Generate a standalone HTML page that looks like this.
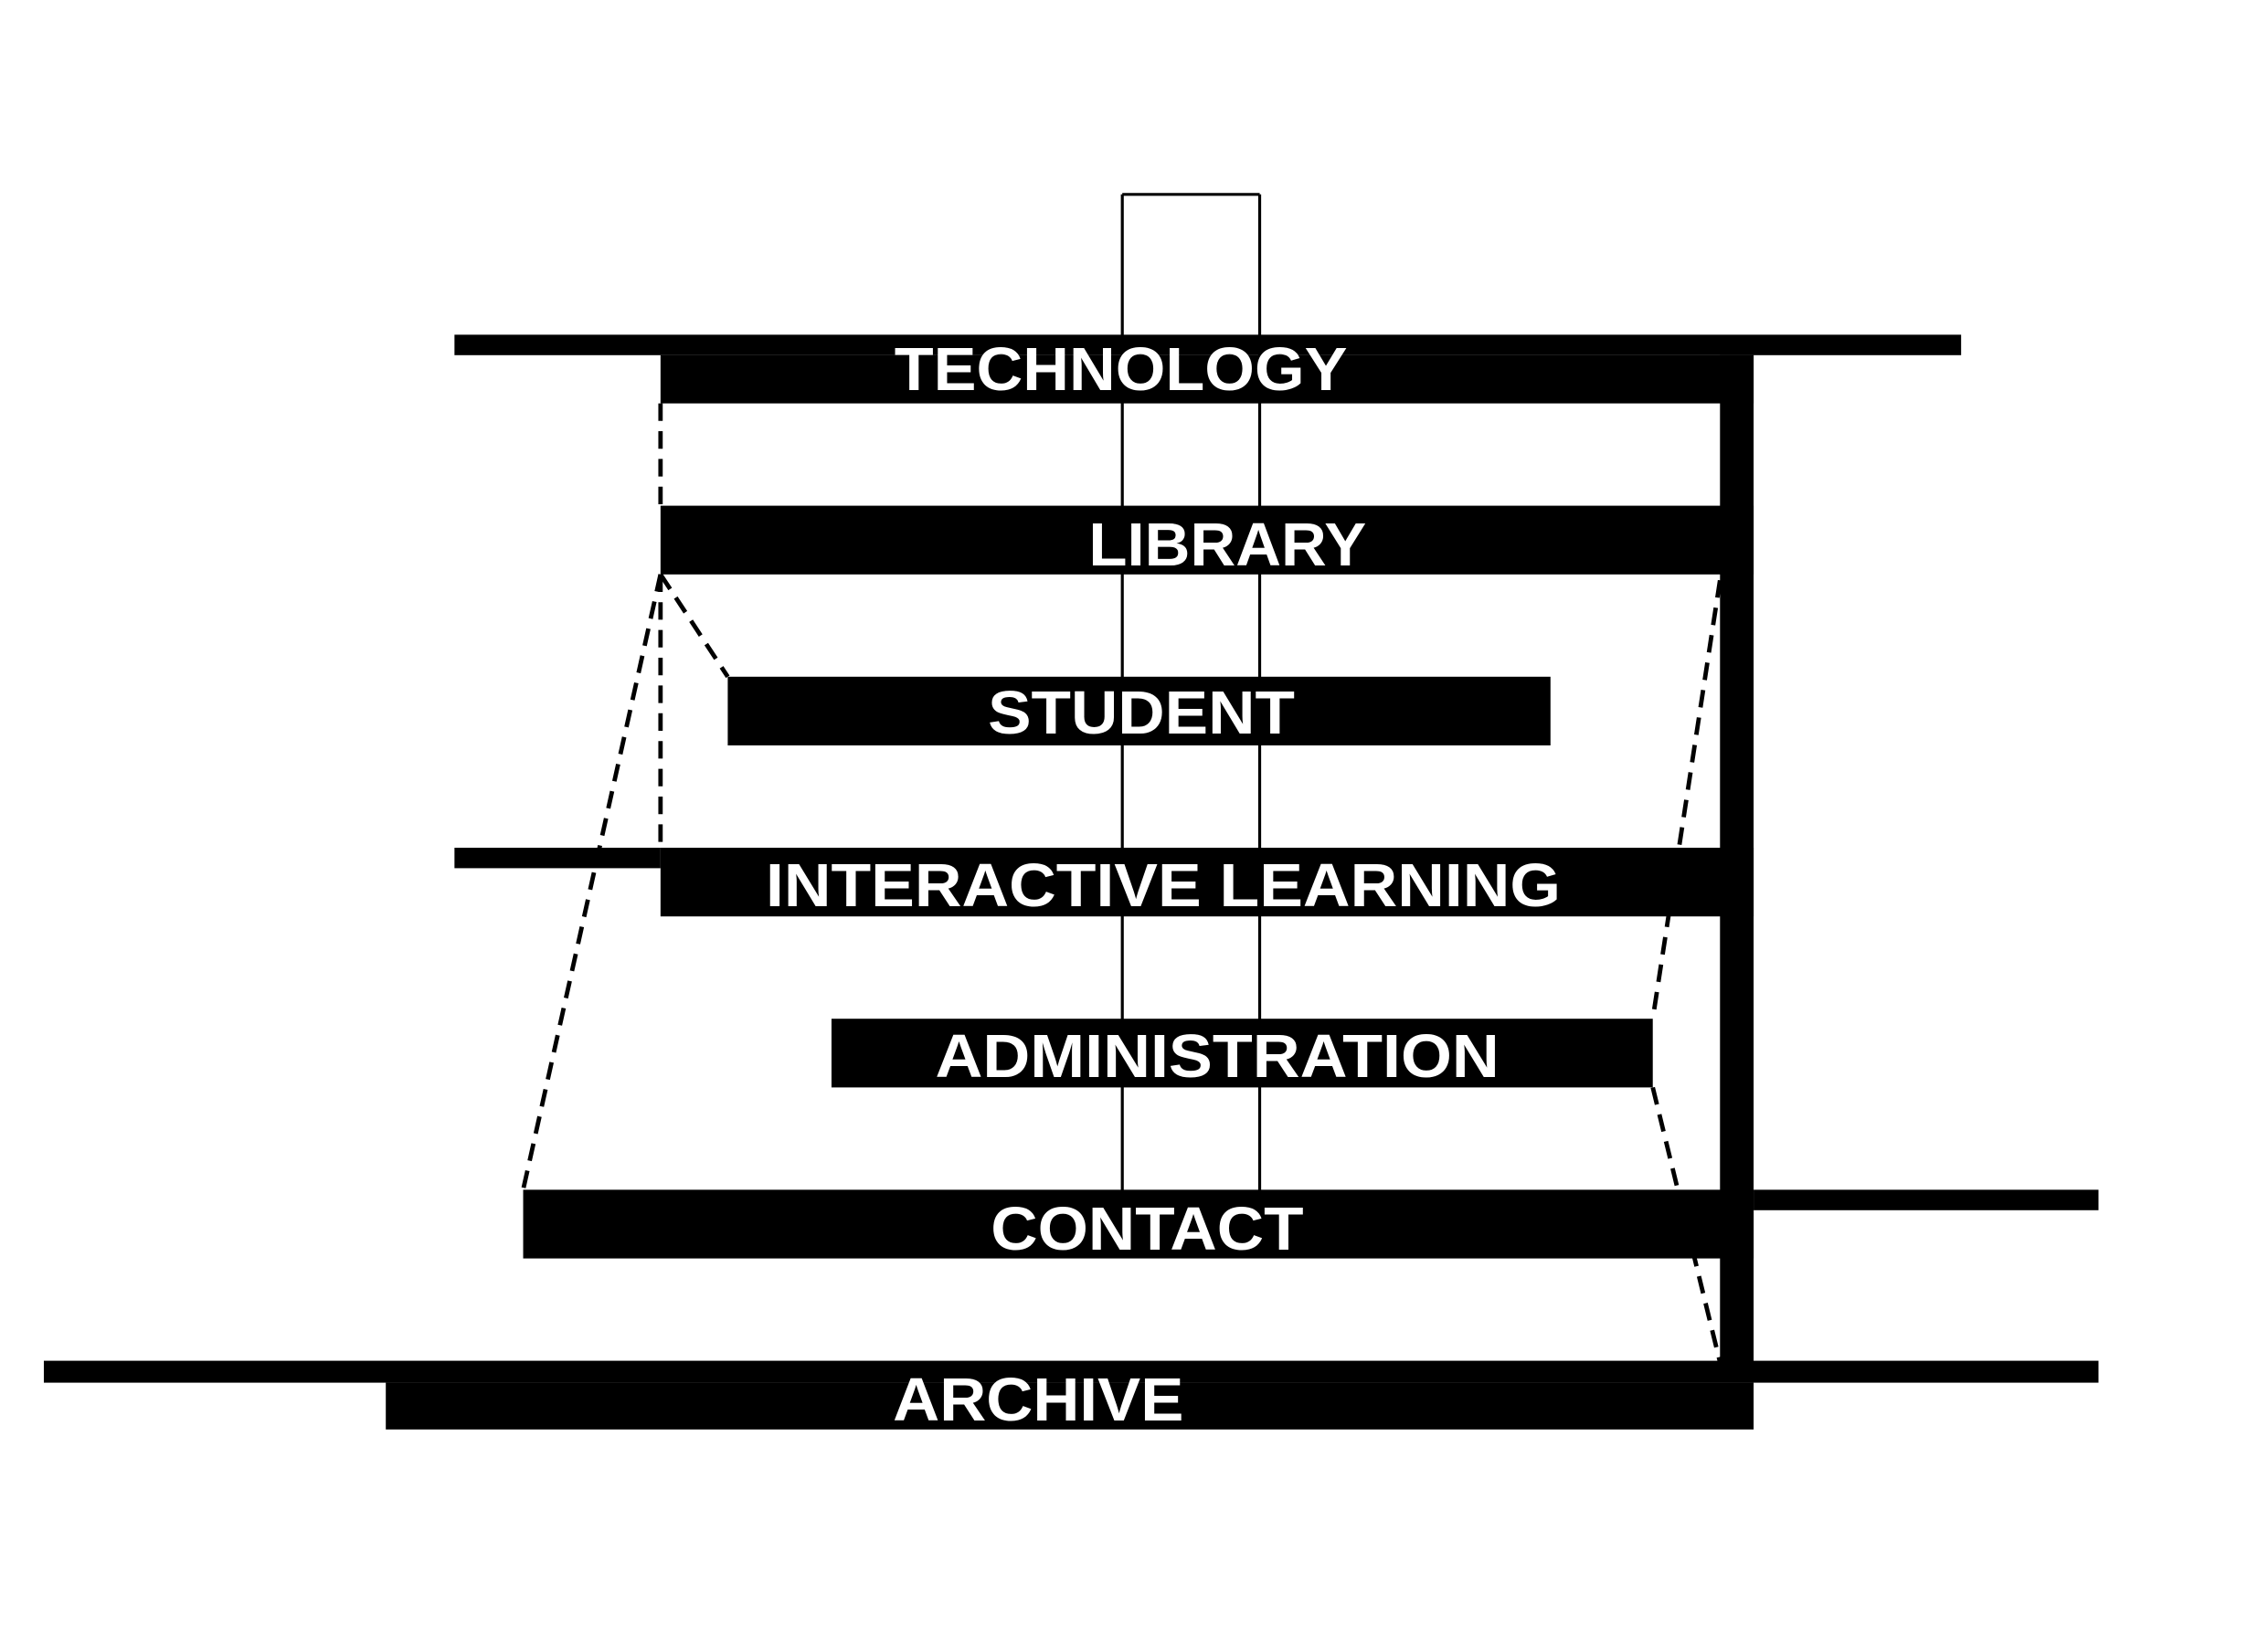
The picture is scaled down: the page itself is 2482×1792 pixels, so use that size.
<!DOCTYPE html>
<html><head><meta charset="utf-8"><style>html,body{margin:0;padding:0;background:#fff}svg{display:block}</style></head>
<body>
<svg width="2482" height="1792" viewBox="0 0 1552 1120" preserveAspectRatio="none" xmlns="http://www.w3.org/2000/svg">
<rect width="1552" height="1120" fill="#fff"/>
<!-- chimney / core lines -->
<g stroke="#000" stroke-width="2" fill="none">
<line x1="768" y1="133" x2="862" y2="133"/>
<line x1="768" y1="133" x2="768" y2="815"/>
<line x1="862" y1="133" x2="862" y2="815"/>
</g>
<g fill="#000">
<rect x="311" y="229" width="1031" height="14"/>
<rect x="452" y="243" width="748" height="33"/>
<rect x="1177" y="243" width="23" height="689"/>
<rect x="452" y="346" width="748" height="47"/>
<rect x="498" y="463" width="563" height="47"/>
<rect x="311" y="580" width="141" height="14"/>
<rect x="452" y="580" width="748" height="47"/>
<rect x="569" y="697" width="562" height="47"/>
<rect x="358" y="814" width="842" height="47"/>
<rect x="1200" y="814" width="236" height="14"/>
<rect x="30" y="931" width="1406" height="15"/>
<rect x="264" y="946" width="936" height="32"/>
</g>
<g stroke="#000" stroke-width="3" fill="none" stroke-dasharray="12,7">
<line x1="452" y1="276" x2="452" y2="346"/>
<line x1="452" y1="393" x2="452" y2="580"/>
<line x1="452" y1="393" x2="498" y2="463"/>
<line x1="452" y1="393" x2="358" y2="814"/>
<line x1="1177" y1="397" x2="1131" y2="697"/>
<line x1="1131" y1="744" x2="1177" y2="932"/>
</g>
<g fill="#fff" font-family="Liberation Sans, sans-serif" font-weight="bold" font-size="42">
<text x="612" y="267" textLength="310" lengthAdjust="spacingAndGlyphs">TECHNOLOGY</text>
<text x="745" y="387" textLength="190" lengthAdjust="spacingAndGlyphs">LIBRARY</text>
<text x="676" y="502" textLength="210" lengthAdjust="spacingAndGlyphs">STUDENT</text>
<text x="524" y="620" textLength="544" lengthAdjust="spacingAndGlyphs">INTERACTIVE LEARNING</text>
<text x="640" y="737" textLength="386" lengthAdjust="spacingAndGlyphs">ADMINISTRATION</text>
<text x="678" y="855" textLength="214" lengthAdjust="spacingAndGlyphs">CONTACT</text>
<text x="611" y="972" textLength="199" lengthAdjust="spacingAndGlyphs">ARCHIVE</text>
</g>
</svg>
</body></html>
